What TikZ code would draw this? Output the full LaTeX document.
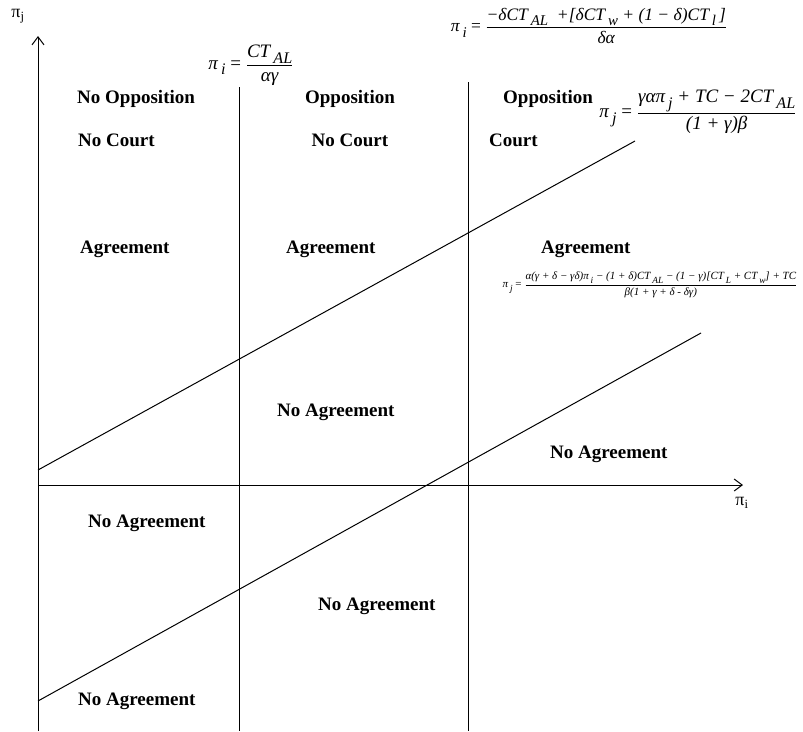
\documentclass[tikz,border=0pt]{standalone}
\usepackage{amsmath}
\usepackage{graphicx}
\usepackage{fontspec}
\setmainfont{Liberation Serif}
\usetikzlibrary{arrows.meta}
\newcommand{\fr}[2]{\ensuremath{\genfrac{}{}{0.5pt}{0}{\hbox{\itshape #1}}{\hbox{\itshape #2}}}}
\newcommand{\sbs}[1]{\,\raisebox{-0.3em}{\scalebox{0.85}{#1}}}
\tikzset{
  lab/.style={font=\fontsize{19}{22}\selectfont\bfseries, inner sep=0pt, anchor=west},
  ax/.style={line width=1pt, -{Straight Barb[length=8pt,width=12pt]}},
  ln/.style={line width=1pt},
  frm/.style={font=\fontsize{17.5}{20}\selectfont, inner sep=0pt},
  frmb/.style={font=\fontsize{19}{22}\selectfont, inner sep=0pt},
  frms/.style={font=\fontsize{11}{13}\selectfont, inner sep=0pt},
}
\begin{document}
\begin{tikzpicture}[x=1pt,y=-1pt]
\useasboundingbox (0,0) rectangle (803,731);
% axes
\coordinate (yb) at (38,731);
\coordinate (yt) at (38,36);
\coordinate (xl) at (38,485);
\coordinate (xr) at (743,485);
\draw[ax] (yb) -- (yt);
\draw[ax] (xl) -- (xr);
\node[font=\fontsize{18}{20}\selectfont] (pj) at (18,16) {π\textsubscript{j}};
\node[font=\fontsize{18}{20}\selectfont] (pi) at (742,503) {π\textsubscript{i}};
% vertical lines
\coordinate (v1t) at (239,87);
\coordinate (v1b) at (239,731);
\coordinate (v2t) at (468,82);
\coordinate (v2b) at (468,731);
\draw[ln] (v1t) -- (v1b);
\draw[ln] (v2t) -- (v2b);
% sloped lines
\coordinate (l1a) at (38,470);
\coordinate (l1b) at (635,141);
\coordinate (l2a) at (38,701);
\coordinate (l2b) at (701,333);
\draw[ln] (l1a) -- (l1b);
\draw[ln] (l2a) -- (l2b);
% labels
\node[lab] (t1) at (77,99) {No Opposition};
\node[lab] (t2) at (78,140) {No Court};
\node[lab,anchor=center] (t3) at (350,99) {Opposition};
\node[lab,anchor=center] (t4) at (350,140) {No Court};
\node[lab] (t5) at (503,99) {Opposition};
\node[lab] (t6) at (489,140) {Court};
\node[lab] (a1) at (80,249) {Agreement};
\node[lab] (a2) at (286,249) {Agreement};
\node[lab] (a3) at (541,249) {Agreement};
\node[lab] (n1) at (277,412) {No Agreement};
\node[lab] (n2) at (550,454) {No Agreement};
\node[lab] (n3) at (88,523) {No Agreement};
\node[lab] (n4) at (318,606) {No Agreement};
\node[lab] (n5) at (78,701) {No Agreement};
% formulas
\node[frmb] (f1) at (251,65) {\itshape π\sbs{i} {\upshape =} \fr{CT\sbs{AL}}{αγ}};
\node[frm] (f2) at (589,26) {\itshape π\sbs{i} {\upshape =} \fr{−δCT\sbs{AL}\ \ +[δCT\sbs{w} + (1 − δ)CT\sbs{l}\,]}{δα}};
\node[frmb] (f3) at (698,112) {\itshape π\sbs{j} {\upshape =} \fr{γαπ\sbs{j} + TC − 2CT\sbs{AL}}{(1 + γ)β}};
\node[frms] (f4) at (650,285) {\itshape π\sbs{j} {\upshape =} \fr{α(γ + δ − γδ)π\sbs{i} − (1 + δ)CT\sbs{AL} − (1 − γ)[CT\sbs{L} + CT\sbs{w}] + TC}{β(1 + γ + δ - δγ)}};
\end{tikzpicture}
\end{document}
